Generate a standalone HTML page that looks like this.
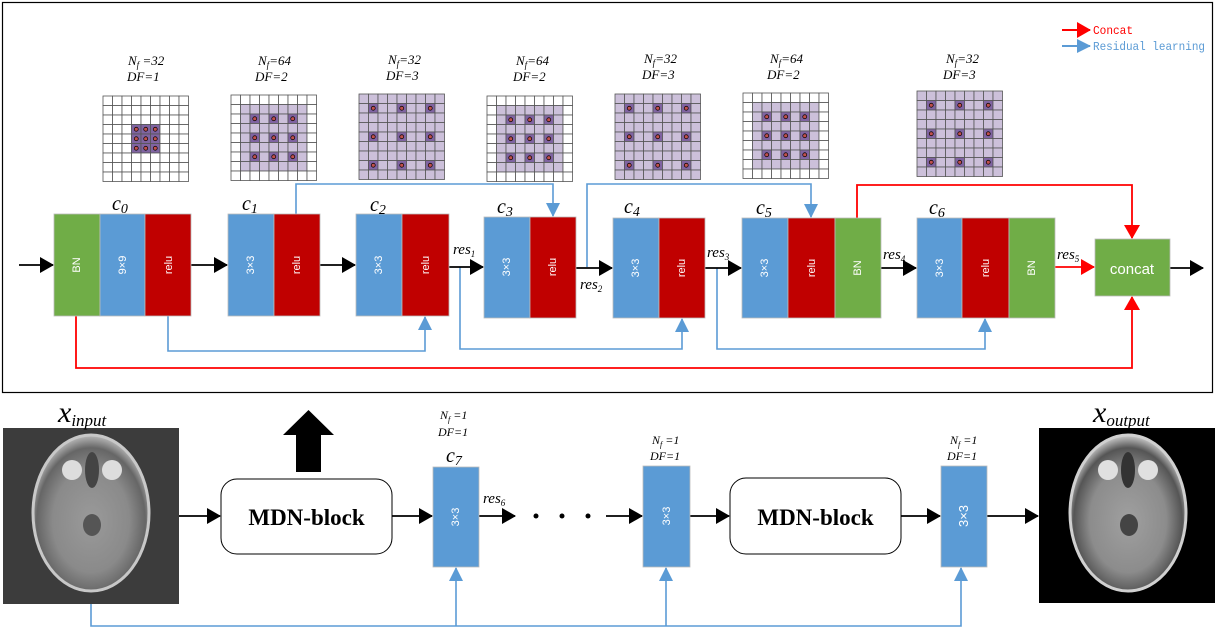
<!DOCTYPE html>
<html><head><meta charset="utf-8"><style>
html,body{margin:0;padding:0;background:#fff}
svg{display:block}
.it{font-family:"Liberation Serif",serif;font-style:italic}
.bt{font-family:"Liberation Sans",sans-serif;fill:#fff;font-size:11px}
</style></head><body>
<svg id="s" width="1217" height="629" viewBox="0 0 1217 629" xmlns="http://www.w3.org/2000/svg">
<defs>
<marker id="abb" markerWidth="14" markerHeight="16" refX="13" refY="8" orient="auto" markerUnits="userSpaceOnUse"><path d="M0,0 L14,8 L0,16 z" fill="#000"/></marker>
<marker id="ar" markerWidth="14" markerHeight="16" refX="13" refY="8" orient="auto" markerUnits="userSpaceOnUse"><path d="M0,0 L14,8 L0,16 z" fill="#f00"/></marker>
<marker id="au" markerWidth="14" markerHeight="14" refX="13" refY="7" orient="auto" markerUnits="userSpaceOnUse"><path d="M0,0 L14,7 L0,14 z" fill="#5b9bd5"/></marker>
<radialGradient id="bi" cx="50%" cy="55%" r="55%"><stop offset="0" stop-color="#9a9a9a"/><stop offset="0.6" stop-color="#8a8a8a"/><stop offset="0.85" stop-color="#666"/><stop offset="1" stop-color="#bbb"/></radialGradient>
<radialGradient id="bo" cx="50%" cy="55%" r="55%"><stop offset="0" stop-color="#a0a0a0"/><stop offset="0.6" stop-color="#8c8c8c"/><stop offset="0.85" stop-color="#555"/><stop offset="1" stop-color="#ccc"/></radialGradient>
</defs>

<rect x="2.5" y="2.5" width="1210" height="390" fill="none" stroke="#000" stroke-width="1.2"/>

<!-- legend -->
<line x1="1062" y1="30" x2="1090" y2="30" stroke="#f00" stroke-width="2" marker-end="url(#ar)"/>
<text x="1093" y="34" font-family="Liberation Mono,monospace" font-size="12" fill="#f00" textLength="40" lengthAdjust="spacingAndGlyphs">Concat</text>
<line x1="1062" y1="46" x2="1090" y2="46" stroke="#5b9bd5" stroke-width="2" marker-end="url(#au)"/>
<text x="1093" y="50" font-family="Liberation Mono,monospace" font-size="12" fill="#5b9bd5" textLength="112" lengthAdjust="spacingAndGlyphs">Residual learning</text>

<g id="grids"></g>

<!-- Nf/DF labels -->
<g class="it" font-size="13">
<text x="128" y="65">N<tspan font-size="9" dy="3">f</tspan><tspan dy="-3"> =32</tspan></text><text x="127" y="81">DF=1</text>
<text x="258" y="65">N<tspan font-size="9" dy="3">f</tspan><tspan dy="-3">=64</tspan></text><text x="255" y="81">DF=2</text>
<text x="388" y="64">N<tspan font-size="9" dy="3">f</tspan><tspan dy="-3">=32</tspan></text><text x="386" y="80">DF=3</text>
<text x="516" y="65">N<tspan font-size="9" dy="3">f</tspan><tspan dy="-3">=64</tspan></text><text x="513" y="81">DF=2</text>
<text x="644" y="63">N<tspan font-size="9" dy="3">f</tspan><tspan dy="-3">=32</tspan></text><text x="642" y="79">DF=3</text>
<text x="770" y="63">N<tspan font-size="9" dy="3">f</tspan><tspan dy="-3">=64</tspan></text><text x="767" y="79">DF=2</text>
<text x="946" y="63">N<tspan font-size="9" dy="3">f</tspan><tspan dy="-3">=32</tspan></text><text x="943" y="79">DF=3</text>
</g>

<!-- blue skip connections -->
<g fill="none" stroke="#5b9bd5" stroke-width="1.6">
<polyline points="296,214 296,184 553,184 553,216" marker-end="url(#au)"/>
<polyline points="587,267 587,184 811,184 811,217" marker-end="url(#au)"/>
<polyline points="168,316 168,351 425,351 425,317" marker-end="url(#au)"/>
<polyline points="460,267 460,349 682,349 682,319" marker-end="url(#au)"/>
<polyline points="717,268 717,349 985,349 985,319" marker-end="url(#au)"/>
<polyline points="91,604 91,626 961,626 961,568" marker-end="url(#au)"/>
<polyline points="456,626 456,568" marker-end="url(#au)"/>
<polyline points="666,626 666,568" marker-end="url(#au)"/>
</g>
<!-- red -->
<g fill="none" stroke="#f00" stroke-width="1.8">
<polyline points="76,316 76,368 1132,368 1132,297" marker-end="url(#ar)"/>
<polyline points="857,218 857,185 1132,185 1132,238" marker-end="url(#ar)"/>
<line x1="1055" y1="267" x2="1094" y2="267" marker-end="url(#ar)"/>
</g>
<!-- black arrows -->
<g stroke="#000" stroke-width="1.8" marker-end="url(#abb)">
<line x1="19" y1="265" x2="53" y2="265"/>
<line x1="191" y1="265" x2="227" y2="265"/>
<line x1="320" y1="265" x2="355" y2="265"/>
<line x1="449" y1="267" x2="483" y2="267"/>
<line x1="576" y1="268" x2="612" y2="268"/>
<line x1="705" y1="268" x2="741" y2="268"/>
<line x1="881" y1="268" x2="916" y2="268"/>
<line x1="1170" y1="268" x2="1203" y2="268"/>
<line x1="179" y1="516" x2="220" y2="516"/>
<line x1="392" y1="516" x2="432" y2="516"/>
<line x1="479" y1="516" x2="515" y2="516"/>
<line x1="606" y1="516" x2="642" y2="516"/>
<line x1="690" y1="516" x2="729" y2="516"/>
<line x1="901" y1="516" x2="940" y2="516"/>
<line x1="987" y1="516" x2="1038" y2="516"/>
</g>

<!-- blocks -->
<g stroke="#bbb" stroke-width="0.8">
<rect x="54" y="214" width="46" height="102" fill="#70ad47"/>
<rect x="100" y="214" width="45" height="102" fill="#5b9bd5"/>
<rect x="145" y="214" width="46" height="102" fill="#c00000"/>
<rect x="228" y="214" width="46" height="102" fill="#5b9bd5"/>
<rect x="274" y="214" width="46" height="102" fill="#c00000"/>
<rect x="356" y="214" width="46" height="102" fill="#5b9bd5"/>
<rect x="402" y="214" width="47" height="102" fill="#c00000"/>
<rect x="484" y="217" width="46" height="101" fill="#5b9bd5"/>
<rect x="530" y="217" width="46" height="101" fill="#c00000"/>
<rect x="613" y="218" width="46" height="100" fill="#5b9bd5"/>
<rect x="659" y="218" width="46" height="100" fill="#c00000"/>
<rect x="742" y="218" width="46" height="100" fill="#5b9bd5"/>
<rect x="788" y="218" width="47" height="100" fill="#c00000"/>
<rect x="835" y="218" width="46" height="100" fill="#70ad47"/>
<rect x="917" y="218" width="45" height="100" fill="#5b9bd5"/>
<rect x="962" y="218" width="47" height="100" fill="#c00000"/>
<rect x="1009" y="218" width="46" height="100" fill="#70ad47"/>
<rect x="1095" y="239" width="75" height="57" fill="#70ad47"/>
<rect x="433" y="467" width="46" height="100" fill="#5b9bd5"/>
<rect x="643" y="466" width="47" height="101" fill="#5b9bd5"/>
<rect x="941" y="466" width="46" height="101" fill="#5b9bd5"/>
</g>
<text x="1132" y="274" text-anchor="middle" font-family="Liberation Sans,sans-serif" font-size="15" fill="#fff">concat</text>

<g class="bt" text-anchor="middle">
<text transform="translate(80,265) rotate(-90)">BN</text>
<text transform="translate(126,265) rotate(-90)">9×9</text>
<text transform="translate(172,265) rotate(-90)">relu</text>
<text transform="translate(254,265) rotate(-90)">3×3</text>
<text transform="translate(300,265) rotate(-90)">relu</text>
<text transform="translate(382,265) rotate(-90)">3×3</text>
<text transform="translate(429,265) rotate(-90)">relu</text>
<text transform="translate(510,267) rotate(-90)">3×3</text>
<text transform="translate(556,267) rotate(-90)">relu</text>
<text transform="translate(639,268) rotate(-90)">3×3</text>
<text transform="translate(685,268) rotate(-90)">relu</text>
<text transform="translate(768,268) rotate(-90)">3×3</text>
<text transform="translate(815,268) rotate(-90)">relu</text>
<text transform="translate(861,268) rotate(-90)">BN</text>
<text transform="translate(943,268) rotate(-90)">3×3</text>
<text transform="translate(989,268) rotate(-90)">relu</text>
<text transform="translate(1035,268) rotate(-90)">BN</text>
<text transform="translate(459,517) rotate(-90)">3×3</text>
<text transform="translate(670,516) rotate(-90)">3×3</text>
<text transform="translate(968,516) rotate(-90)" font-size="13">3×3</text>
</g>

<!-- c labels -->
<g class="it" font-size="20">
<text x="112" y="210">c<tspan font-size="14" dy="3">0</tspan></text>
<text x="242" y="210">c<tspan font-size="14" dy="3">1</tspan></text>
<text x="370" y="211">c<tspan font-size="14" dy="3">2</tspan></text>
<text x="497" y="213">c<tspan font-size="14" dy="3">3</tspan></text>
<text x="624" y="213">c<tspan font-size="14" dy="3">4</tspan></text>
<text x="756" y="214">c<tspan font-size="14" dy="3">5</tspan></text>
<text x="929" y="214">c<tspan font-size="14" dy="3">6</tspan></text>
<text x="446" y="462">c<tspan font-size="14" dy="3">7</tspan></text>
</g>
<g class="it" font-size="15">
<text x="453" y="254">res<tspan font-size="9" dy="3">1</tspan></text>
<text x="580" y="289">res<tspan font-size="9" dy="3">2</tspan></text>
<text x="707" y="257">res<tspan font-size="9" dy="3">3</tspan></text>
<text x="883" y="259">res<tspan font-size="9" dy="3">4</tspan></text>
<text x="1057" y="259">res<tspan font-size="9" dy="3">5</tspan></text>
<text x="483" y="503">res<tspan font-size="9" dy="3">6</tspan></text>
</g>
<g class="it" font-size="12">
<text x="440" y="419">N<tspan font-size="8" dy="3">f</tspan><tspan dy="-3"> =1</tspan></text><text x="438" y="436">DF=1</text>
<text x="652" y="444">N<tspan font-size="8" dy="3">f</tspan><tspan dy="-3"> =1</tspan></text><text x="650" y="460">DF=1</text>
<text x="950" y="444">N<tspan font-size="8" dy="3">f</tspan><tspan dy="-3"> =1</tspan></text><text x="947" y="460">DF=1</text>
</g>

<!-- dots -->
<circle cx="536" cy="516" r="2.5" fill="#000"/><circle cx="562" cy="516" r="2.5" fill="#000"/><circle cx="588" cy="516" r="2.5" fill="#000"/>

<!-- big up arrow -->
<path d="M296,472 L321,472 L321,435 L334,435 L308.5,410 L283,435 L296,435 z" fill="#000"/>

<!-- MDN blocks -->
<rect x="221" y="479" width="171" height="75" rx="16" fill="#fff" stroke="#000" stroke-width="1"/>
<text x="306.5" y="525" text-anchor="middle" font-family="Liberation Serif,serif" font-weight="bold" font-size="23">MDN-block</text>
<rect x="730" y="478" width="171" height="76" rx="16" fill="#fff" stroke="#000" stroke-width="1"/>
<text x="815.5" y="525" text-anchor="middle" font-family="Liberation Serif,serif" font-weight="bold" font-size="23">MDN-block</text>

<!-- images -->
<rect x="3" y="428" width="176" height="176" fill="#3c3c3c"/>
<ellipse cx="91" cy="513" rx="58" ry="78" fill="url(#bi)" stroke="#c8c8c8" stroke-width="3"/>
<circle cx="72" cy="470" r="10" fill="#ddd"/><circle cx="112" cy="470" r="10" fill="#ddd"/>
<ellipse cx="92" cy="470" rx="7" ry="18" fill="#444"/>
<ellipse cx="92" cy="525" rx="9" ry="11" fill="#555"/>
<rect x="1039" y="428" width="176" height="175" fill="#000"/>
<ellipse cx="1128" cy="513" rx="58" ry="78" fill="url(#bo)" stroke="#d0d0d0" stroke-width="3"/>
<circle cx="1108" cy="470" r="10" fill="#e0e0e0"/><circle cx="1148" cy="470" r="10" fill="#e0e0e0"/>
<ellipse cx="1128" cy="470" rx="7" ry="18" fill="#333"/>
<ellipse cx="1129" cy="525" rx="9" ry="11" fill="#444"/>

<text x="58" y="422" class="it" font-size="30">x<tspan font-size="17" dy="4">input</tspan></text>
<text x="1093" y="422" class="it" font-size="30">x<tspan font-size="17" dy="4">output</tspan></text>
</svg>
<script>
(function(){
var g=document.getElementById('grids'),ns='http://www.w3.org/2000/svg';
function R(x,y,w,h,f){var r=document.createElementNS(ns,'rect');r.setAttribute('x',x);r.setAttribute('y',y);r.setAttribute('width',w);r.setAttribute('height',h);r.setAttribute('fill',f);r.setAttribute('stroke','#555');r.setAttribute('stroke-width','0.8');g.appendChild(r);}
function C(x,y){var c=document.createElementNS(ns,'circle');c.setAttribute('cx',x);c.setAttribute('cy',y);c.setAttribute('r',2);c.setAttribute('fill','#c0504d');c.setAttribute('stroke','#000');c.setAttribute('stroke-width','0.7');g.appendChild(c);}
function grid(x0,y0,t){var s=9.5;
for(var i=0;i<9;i++)for(var j=0;j<9;j++){
var f='#fff',d=false;
if(t==0){d=(i>=3&&i<=5&&j>=3&&j<=5);}
else if(t==1){if(i>=1&&i<=7&&j>=1&&j<=7)f='#ccc0da';d=(i%2==0&&i>0&&i<8&&j%2==0&&j>0&&j<8);}
else {f='#ccc0da';d=((i==1||i==4||i==7)&&(j==1||j==4||j==7));}
if(d)f='#8064a2';
R(x0+j*s,y0+i*s,s,s,f);if(d)C(x0+j*s+s/2,y0+i*s+s/2);}
}
grid(103,96,0);grid(231,95,1);grid(359,94,2);grid(487,96,1);grid(615,94,2);grid(743,93,1);grid(917,91,2);
})();
</script>
</body></html>
